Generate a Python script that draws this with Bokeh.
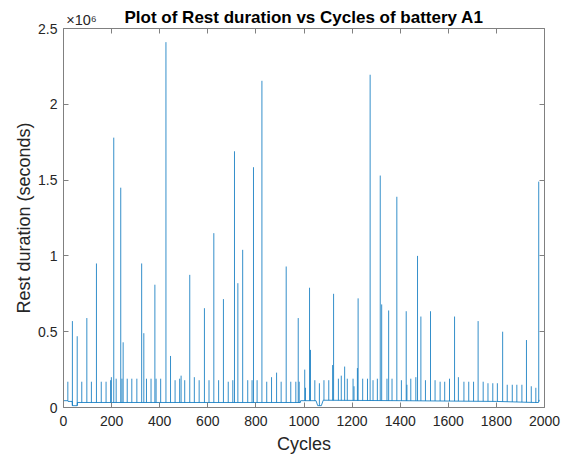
import numpy as np
from bokeh.plotting import figure
from bokeh.models import (LinearAxis, FixedTicker, Range1d)
from bokeh.embed import file_html
from bokeh.resources import INLINE

# ---- data ----
base_cycles = [1, 18, 19, 36, 37, 57, 58, 985, 986, 1050, 1057, 1072, 1080,
               1400, 1800, 1960, 1975, 1978]
base_vals = [0.045e6, 0.045e6, 0.040e6, 0.040e6, 0.012e6, 0.012e6, 0.033e6,
             0.033e6, 0.045e6, 0.045e6, 0.012e6, 0.012e6, 0.048e6, 0.045e6,
             0.040e6, 0.033e6, 0.033e6, 0.050e6]

spike_cycles = [18, 37, 57, 76, 97, 116, 137, 157, 177, 196, 199, 209, 219, 238,
                243, 248, 265, 284, 305, 325, 334, 345, 364, 380, 385, 404, 426,
                445, 464, 483, 489, 504, 525, 544, 564, 586, 605, 625, 645, 665,
                685, 704, 711, 725, 745, 766, 784, 790, 805, 825, 845, 865, 886,
                905, 926, 945, 966, 976, 980, 1003, 1006, 1023, 1027, 1045, 1064,
                1083, 1103, 1119, 1123, 1143, 1155, 1169, 1180, 1204, 1208, 1222,
                1225, 1244, 1264, 1275, 1287, 1305, 1317, 1323, 1345, 1352, 1366,
                1386, 1405, 1425, 1428, 1444, 1465, 1472, 1486, 1505, 1526, 1545,
                1566, 1585, 1605, 1626, 1642, 1665, 1685, 1705, 1724, 1745, 1765,
                1785, 1804, 1826, 1845, 1866, 1885, 1906, 1925, 1945, 1964, 1976]
spike_heights = [0.17, 0.57, 0.47, 0.17, 0.59, 0.17, 0.95, 0.17, 0.17, 0.18, 0.20,
                 1.78, 0.19, 1.45, 0.19, 0.43, 0.19, 0.19, 0.19, 0.95, 0.49, 0.19,
                 0.19, 0.81, 0.19, 0.19, 2.41, 0.34, 0.18, 0.19, 0.21, 0.18, 0.875,
                 0.20, 0.18, 0.655, 0.18, 1.15, 0.18, 0.715, 0.17, 0.18, 1.69, 0.82,
                 1.04, 0.18, 0.18, 1.585, 0.18, 2.155, 0.17, 0.20, 0.23, 0.17, 0.93,
                 0.17, 0.17, 0.59, 0.17, 0.25, 0.13, 0.79, 0.38, 0.18, 0.16, 0.18,
                 0.18, 0.28, 0.75, 0.19, 0.21, 0.27, 0.19, 0.19, 0.14, 0.26, 0.72,
                 0.19, 0.19, 2.195, 0.18, 0.19, 1.53, 0.68, 0.19, 0.64, 0.19, 1.39,
                 0.18, 0.635, 0.15, 0.19, 0.20, 1.0, 0.60, 0.18, 0.635, 0.18, 0.17,
                 0.17, 0.19, 0.60, 0.20, 0.17, 0.17, 0.17, 0.57, 0.17, 0.16, 0.16,
                 0.16, 0.50, 0.15, 0.15, 0.15, 0.15, 0.445, 0.14, 0.13, 1.49]
spike_heights = [h * 1e6 for h in spike_heights]

x_ticks = [0, 200, 400, 600, 800, 1000, 1200, 1400, 1600, 1800, 2000]
y_ticks = [0, 0.5e6, 1.0e6, 1.5e6, 2.0e6, 2.5e6]
y_tick_labels = ["0", "0.5", "1", "1.5", "2", "2.5"]
y_exponent = "\u00d710\u2076"

title_text = "Plot of Rest duration vs Cycles of battery A1"
x_label = "Cycles"
y_label = "Rest duration (seconds)"

# ---- figure ----
FONT = "Liberation Sans"
AX_COL = "#808080"
TXT_COL = "#262626"
BLUE = "#0072BD"

p = figure(width=569, height=457, output_backend="svg", toolbar_location=None,
           x_range=Range1d(0, 2000), y_range=Range1d(0, 2.5e6),
           min_border_left=63, min_border_right=25, min_border_top=28,
           min_border_bottom=50, x_axis_location=None, y_axis_location=None)
p.outline_line_color = None
p.xgrid.visible = False
p.ygrid.visible = False
p.background_fill_color = "white"
p.border_fill_color = "white"

feet = np.interp(spike_cycles, base_cycles, base_vals)
p.line(base_cycles, base_vals, line_color=BLUE, line_width=0.8)
p.segment(x0=spike_cycles, y0=feet, x1=spike_cycles, y1=spike_heights,
          line_color=BLUE, line_width=0.8)

def style(ax, labels=True):
    ax.axis_line_color = AX_COL
    ax.axis_line_width = 1
    ax.major_tick_line_color = AX_COL
    ax.major_tick_in = 5
    ax.major_tick_out = 0
    ax.minor_tick_line_color = None
    ax.major_label_text_font = FONT
    ax.major_label_text_font_size = "14px"
    ax.major_label_text_color = TXT_COL
    ax.axis_label_text_font = FONT
    ax.axis_label_text_font_size = "18px"
    ax.axis_label_text_font_style = "normal"
    ax.axis_label_text_color = TXT_COL
    if not labels:
        ax.major_label_text_font_size = "0px"
        ax.major_label_text_color = None

xb = LinearAxis(ticker=FixedTicker(ticks=x_ticks), axis_label=x_label)
style(xb)
xb.major_label_standoff = 8
xb.axis_label_standoff = 5
p.add_layout(xb, "below")

# top axis 1: tick marks and frame line only
xt = LinearAxis(ticker=FixedTicker(ticks=x_ticks))
style(xt, labels=False)
xt.major_label_standoff = 0
p.add_layout(xt, "above")

# top axis 2: the y exponent and the title (no line, no ticks)
exp_pos = [75]
xt2 = LinearAxis(ticker=FixedTicker(ticks=exp_pos), axis_label=title_text)
style(xt2)
xt2.axis_line_color = None
xt2.major_tick_line_color = None
xt2.major_tick_in = 0
xt2.major_label_overrides = {exp_pos[0]: y_exponent}
xt2.major_label_text_font_size = "14.5px"
xt2.major_label_standoff = 1
xt2.axis_label_text_font_size = "17px"
xt2.axis_label_text_font_style = "bold"
xt2.axis_label_text_color = "black"
xt2.axis_label_standoff = -18
p.add_layout(xt2, "above")

yl = LinearAxis(ticker=FixedTicker(ticks=y_ticks), axis_label=y_label)
style(yl)
yl.major_label_overrides = {t: s for t, s in zip(y_ticks, y_tick_labels)}
yl.major_label_standoff = 6
yl.axis_label_standoff = 1
p.add_layout(yl, "left")

yr = LinearAxis(ticker=FixedTicker(ticks=y_ticks))
style(yr, labels=False)
yr.major_label_standoff = 0
p.add_layout(yr, "right")

open("out.html", "w").write(file_html(p, INLINE))
